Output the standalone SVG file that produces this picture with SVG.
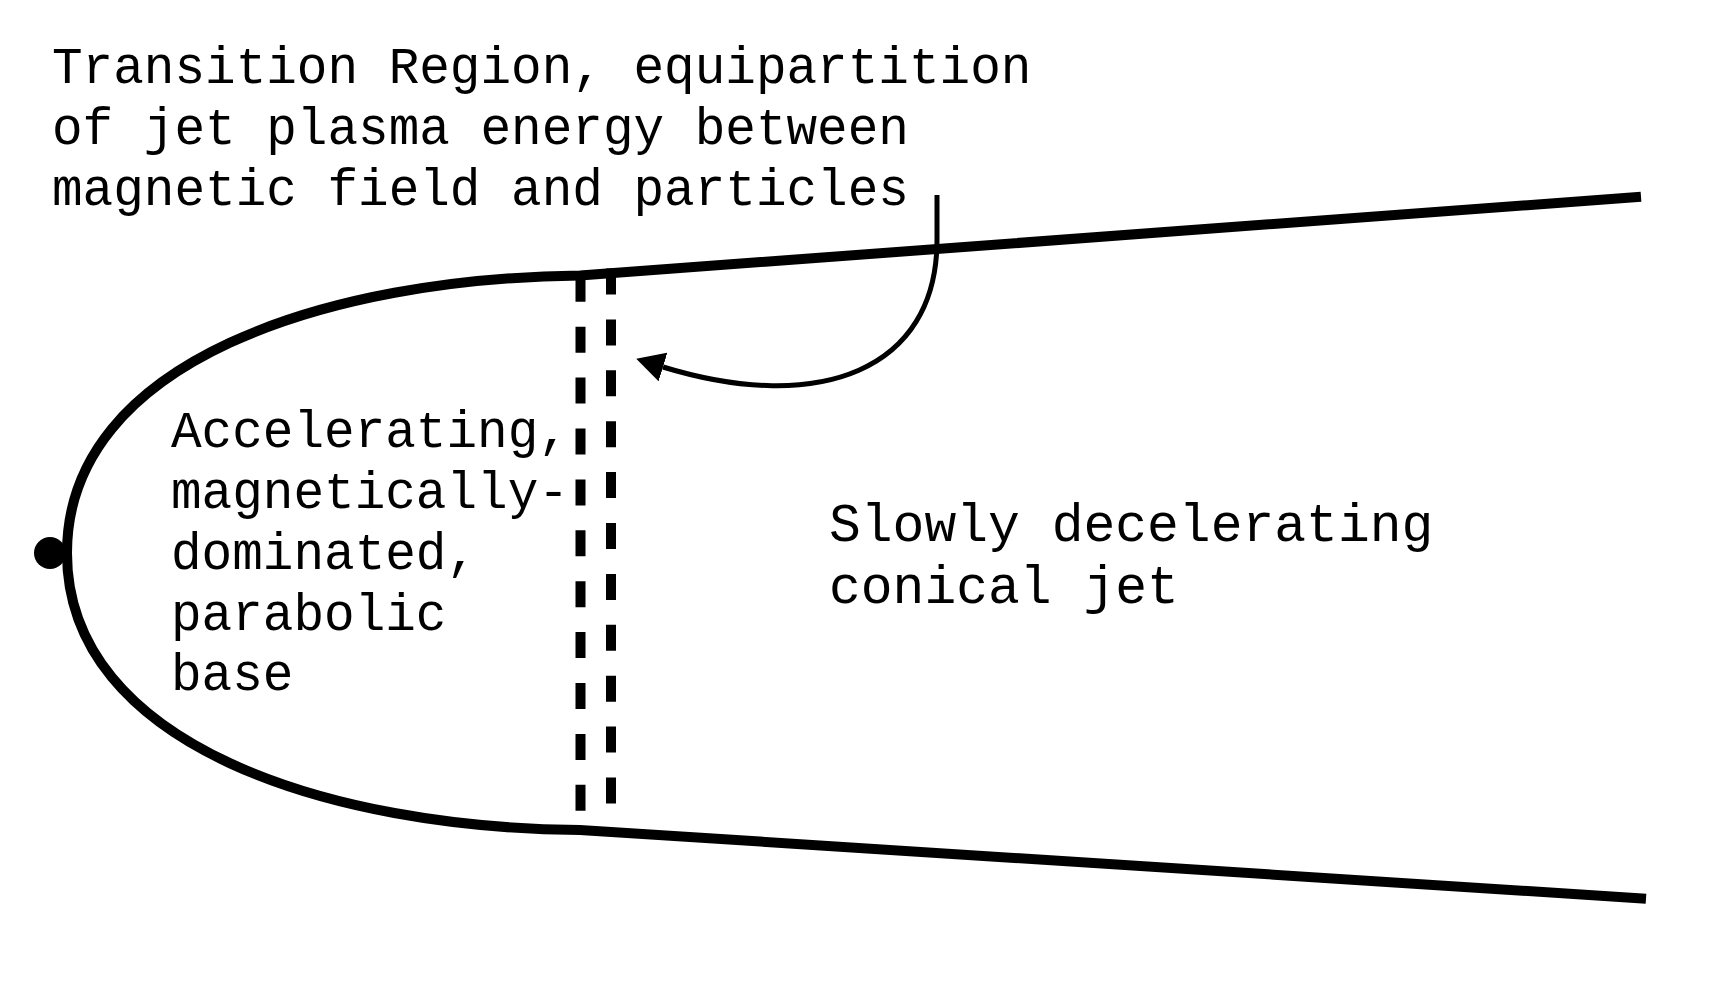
<svg xmlns="http://www.w3.org/2000/svg" width="1714" height="1007" viewBox="0 0 1714 1007">
  <style>
    .lbl { font-family: "Courier New", "Liberation Mono", "DejaVu Sans Mono", monospace; font-size: 51px; fill: #000; }
    .big { font-size: 53px; }
    .jet { fill: none; stroke: #000; stroke-width: 10; stroke-linejoin: miter; }
    .dash { fill: none; stroke: #000; stroke-width: 10; stroke-dasharray: 26 24.9; }
    .conn { fill: none; stroke: #000; stroke-width: 5; }
  </style>
  <defs>
    <marker id="ah" viewBox="0 0 28 30" refX="0" refY="15" markerWidth="28" markerHeight="30" markerUnits="userSpaceOnUse" orient="auto">
      <path d="M0,0 L28,15 L0,30 z" fill="#000"/>
    </marker>
  </defs>
  <rect width="1714" height="1007" fill="#fff"/>

  <g id="jet">
    <path class="jet" d="M1641 196.7 L580 275.5 C330 278 67 360 67 553 C67 746 330 828 580 830 L1646 898.7"/>
    <circle cx="50" cy="553" r="16" fill="#000"/>
  </g>

  <g id="transition-region">
    <line class="dash" x1="580.5" y1="275.8" x2="580.5" y2="812"/>
    <line class="dash" x1="611" y1="268.5" x2="611" y2="804"/>
  </g>

  <g id="label-transition">
    <text class="lbl" x="52" y="83">Transition Region, equipartition</text>
    <text class="lbl" x="52" y="144">of jet plasma energy between</text>
    <text class="lbl" x="52" y="205">magnetic field and particles</text>
  </g>

  <g id="label-base">
    <text class="lbl" x="171" y="447">Accelerating,</text>
    <text class="lbl" x="171" y="508">magnetically-</text>
    <text class="lbl" x="171" y="569">dominated,</text>
    <text class="lbl" x="171" y="630">parabolic</text>
    <text class="lbl" x="171" y="690">base</text>
  </g>

  <g id="label-cone">
    <text class="lbl big" x="829" y="541">Slowly decelerating</text>
    <text class="lbl big" x="829" y="603">conical jet</text>
  </g>

  <g id="connectors">
    <path class="conn" d="M937 195 L937 240 C937 370 820 415 663 367" marker-end="url(#ah)"/>
  </g>
</svg>
